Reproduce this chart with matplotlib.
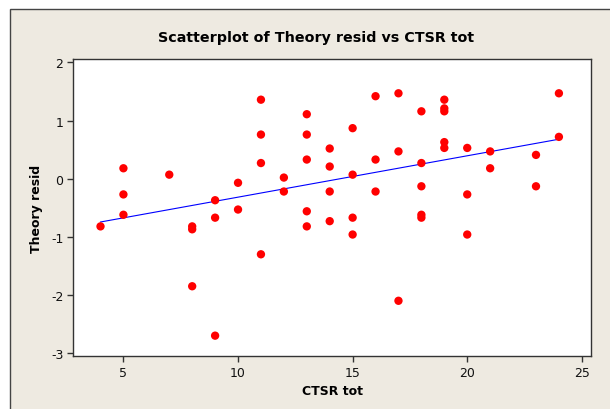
import matplotlib.pyplot as plt
import numpy as np
from matplotlib.patches import Rectangle

plt.rcParams['axes.unicode_minus'] = False

# values
ctsr_tot = [4,
            5, 5, 5,
            7,
            8, 8, 8,
            9, 9, 9,
            10, 10,
            11, 11, 11, 11,
            12, 12,
            13, 13, 13, 13, 13,
            14, 14, 14, 14,
            15, 15, 15, 15,
            16, 16, 16,
            17, 17, 17,
            18, 18, 18, 18, 18,
            19, 19, 19, 19, 19,
            20, 20, 20,
            21, 21,
            23, 23,
            24, 24]
theory_resid = [-0.82,
                0.18, -0.27, -0.62,
                0.07,
                -0.82, -0.87, -1.85,
                -0.37, -0.67, -2.70,
                -0.07, -0.53,
                1.36, 0.76, 0.27, -1.30,
                0.02, -0.22,
                1.11, 0.76, 0.33, -0.56, -0.82,
                0.52, 0.21, -0.22, -0.73,
                0.87, 0.07, -0.67, -0.96,
                1.42, 0.33, -0.22,
                1.47, 0.47, -2.10,
                1.16, 0.27, -0.13, -0.62, -0.67,
                1.36, 1.21, 1.16, 0.63, 0.53,
                0.53, -0.27, -0.96,
                0.47, 0.18,
                0.41, -0.13,
                1.47, 0.72]
x_ticks = [5, 10, 15, 20, 25]
y_ticks = [-3, -2, -1, 0, 1, 2]

x = np.array(ctsr_tot, dtype=float)
y = np.array(theory_resid)
b1, b0 = np.polyfit(x, y, 1)
lin_x = np.array([x.min(), x.max()])
lin_y = b0 + b1 * lin_x

fig = plt.figure(figsize=(6.1, 4.1), dpi=100)
fig.patch.set_facecolor("white")
fig.patches.append(Rectangle((9.5 / 610, -0.01), 1.0, 1 - 9.5 / 410 + 0.01,
                             transform=fig.transFigure, facecolor="#eeeae1",
                             edgecolor="#444444", linewidth=1.0, zorder=-10))

ax = fig.add_axes([73 / 610, 1 - 357 / 410, (591 - 73) / 610, (357 - 60) / 410])
ax.set_facecolor("white")
ax.plot(lin_x, lin_y, color="#0000ff", linewidth=0.8, zorder=2)
ax.scatter(x, y, s=36, color="#ff0000", edgecolors="none", zorder=3)

ax.set_xlim(2.8, 25.4)
ax.set_ylim(-3.05, 2.06)
ax.set_xticks(x_ticks)
ax.set_yticks(y_ticks)
ax.tick_params(direction="out", length=4, width=1, color="#333333",
               labelsize=9, labelcolor="#111111", pad=3)
for s in ax.spines.values():
    s.set_color("#333333")
    s.set_linewidth(1.0)

ax.set_xlabel("CTSR tot", fontsize=9, fontweight="bold", labelpad=4)
ax.set_ylabel("Theory resid", fontsize=9, fontweight="bold", labelpad=6)
fig.text(316 / 610, 1 - 38 / 410, "Scatterplot of Theory resid vs CTSR tot",
         ha="center", va="center", fontsize=10.3, fontweight="bold")

fig.savefig("out.png", dpi=100)
